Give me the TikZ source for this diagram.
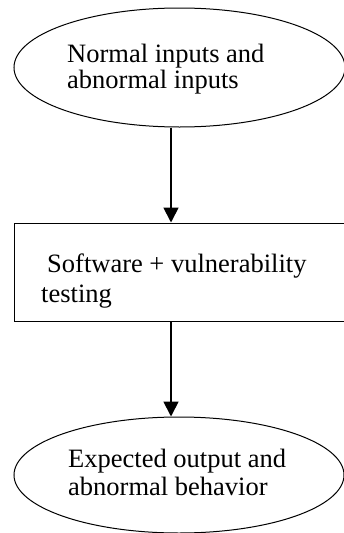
\documentclass[tikz,border=0pt]{standalone}
\usepackage{fontspec}
\setmainfont{Liberation Serif}
\usetikzlibrary{shapes.geometric,arrows.meta}
\begin{document}
\begin{tikzpicture}[x=1pt,y=-1pt,
  shapeline/.style={draw=black,line width=1pt,inner sep=0pt},
  oval/.style={shapeline,ellipse},
  procbox/.style={shapeline,rectangle},
  lbl/.style={anchor=base west,inner sep=0pt,font=\fontsize{26.5}{27}\selectfont},
  arr/.style={line width=1.8pt,-{Triangle[width=15pt,length=15pt]}}]
\useasboundingbox (0,0) rectangle (343,533);
\node[oval,minimum width=331pt,minimum height=119pt] (top) at (179.5,67.5) {};
\node[procbox,minimum width=346pt,minimum height=98pt] (box) at (187,272) {};
\node[oval,minimum width=330pt,minimum height=116pt] (bot) at (179,475) {};
\coordinate (ax) at (171,0);
\node[lbl] (t1) at (67,62) {Normal inputs and};
\node[lbl] (t2) at (67,88) {abnormal inputs};
\node[lbl] (b1) at (47,272) {Software + vulnerability};
\node[lbl] (b2) at (41,302) {testing};
\node[lbl] (e1) at (68,467) {Expected output and};
\node[lbl] (e2) at (68,495) {abnormal behavior};
\draw[arr] (top.south -| ax) -- (box.north -| ax);
\draw[arr] (box.south -| ax) -- (bot.north -| ax);
\end{tikzpicture}
\end{document}
